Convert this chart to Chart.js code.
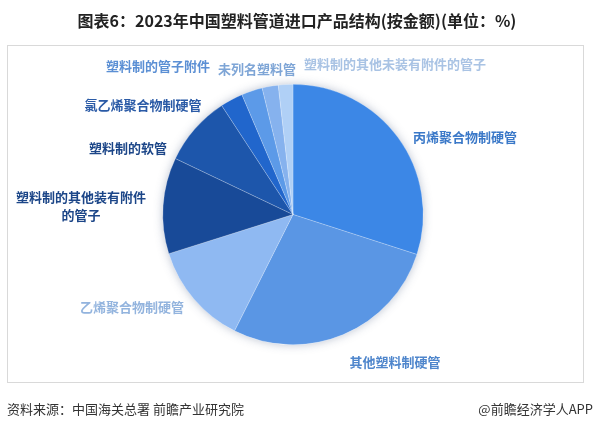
<!DOCTYPE html>
<html>
<head>
<meta charset="utf-8">
<script src="https://cdn.jsdelivr.net/npm/chart.js@4/dist/chart.umd.min.js"></script>
<style>
  html, body { margin: 0; padding: 0; background: #ffffff; }
  #wrap { position: relative; width: 594px; height: 429px; }
  canvas { display: block; }
</style>
</head>
<body>
<div id="wrap"><canvas id="c" width="594" height="429"></canvas></div>
<script>
// ---- data ----
const categories = [
  '丙烯聚合物制硬管',
  '其他塑料制硬管',
  '乙烯聚合物制硬管',
  '塑料制的其他装有附件的管子',
  '塑料制的软管',
  '氯乙烯聚合物制硬管',
  '塑料制的管子附件',
  '未列名塑料管',
  '塑料制的其他未装有附件的管子'
];
const shares = [29.9, 27.4, 12.7, 11.9, 8.7, 2.8, 2.6, 2.0, 1.8];

const titleText = '图表6：2023年中国塑料管道进口产品结构(按金额)(单位：%)';
const sourceText = '资料来源：中国海关总署 前瞻产业研究院';
const brandText = '@前瞻经济学人APP';

// ---- styles ----
const sliceColors = ['#3c87e6', '#5a96e4', '#8fb9f2', '#184a98', '#1d56ab', '#2166cc', '#5c9ae8', '#86b2ee', '#b0d0f6'];
const labelColors = ['#3a78c8', '#4f86cc', '#93b4de', '#1c4688', '#1c4688', '#2a5aa6', '#5b8fd4', '#7ea5d6', '#a9c3e4'];
// label text-centre offsets relative to the pie centre, in pixels (one pair per line)
const labelOffsets = [
  [[172, -77]], [[102, 148]], [[-161, 93]], [[-212, -17], [-212, 1]], [[-165, -66]],
  [[-150, -109]], [[-135, -148]], [[-36, -145]], [[102, -150]]
];
// how each category label is wrapped
const labelLines = [
  ['丙烯聚合物制硬管'], ['其他塑料制硬管'], ['乙烯聚合物制硬管'],
  ['塑料制的其他装有附件', '的管子'],
  ['塑料制的软管'], ['氯乙烯聚合物制硬管'], ['塑料制的管子附件'], ['未列名塑料管'],
  ['塑料制的其他未装有附件的管子']
];

const FONT = '"Noto Sans CJK SC", "Noto Sans", sans-serif';

const decor = {
  id: 'decor',
  beforeDraw(chart) {
    const ctx = chart.ctx;
    ctx.save();
    ctx.fillStyle = '#ffffff';
    ctx.fillRect(0, 0, chart.width, chart.height);
    // title
    ctx.fillStyle = '#222222';
    ctx.font = 'bold 16px ' + FONT;
    ctx.textAlign = 'center';
    ctx.textBaseline = 'middle';
    ctx.fillText(titleText, 297, 21);
    // frame
    ctx.strokeStyle = '#d9d9d9';
    ctx.lineWidth = 1;
    ctx.strokeRect(7.5, 45.5, 576, 337);
    // footer
    ctx.fillStyle = '#333333';
    ctx.font = '13px ' + FONT;
    ctx.textAlign = 'left';
    ctx.fillText(sourceText, 7, 409);
    ctx.textAlign = 'right';
    ctx.fillText(brandText, 593, 409);
    ctx.restore();
  },
  beforeDatasetsDraw(chart) {
    const arc = chart.getDatasetMeta(0).data[0];
    if (!arc) return;
    const ctx = chart.ctx;
    ctx.save();
    ctx.shadowColor = 'rgba(60,80,120,0.35)';
    ctx.shadowBlur = 10;
    ctx.fillStyle = '#ffffff';
    ctx.beginPath();
    ctx.arc(arc.x, arc.y, arc.outerRadius, 0, Math.PI * 2);
    ctx.fill();
    ctx.restore();
  },
  afterDatasetsDraw(chart) {
    const arc = chart.getDatasetMeta(0).data[0];
    if (!arc) return;
    const ctx = chart.ctx;
    ctx.save();
    ctx.font = 'bold 13px ' + FONT;
    ctx.textAlign = 'center';
    ctx.textBaseline = 'middle';
    categories.forEach((c, i) => {
      ctx.fillStyle = labelColors[i];
      labelLines[i].forEach((ln, j) => {
        const off = labelOffsets[i][j];
        ctx.fillText(ln, arc.x + off[0], arc.y + off[1]);
      });
    });
    ctx.restore();
  }
};

new Chart(document.getElementById('c'), {
  type: 'pie',
  data: {
    labels: categories,
    datasets: [{
      data: shares,
      backgroundColor: sliceColors,
      borderColor: 'rgba(255,255,255,0.35)',
      borderWidth: 0.6
    }]
  },
  options: {
    responsive: false,
    animation: false,
    devicePixelRatio: 1,
    layout: { padding: { top: 84, bottom: 84, left: 162, right: 170 } },
    plugins: {
      legend: { display: false },
      tooltip: { enabled: false },
      title: { display: false }
    }
  },
  plugins: [decor]
});
</script>
</body>
</html>
